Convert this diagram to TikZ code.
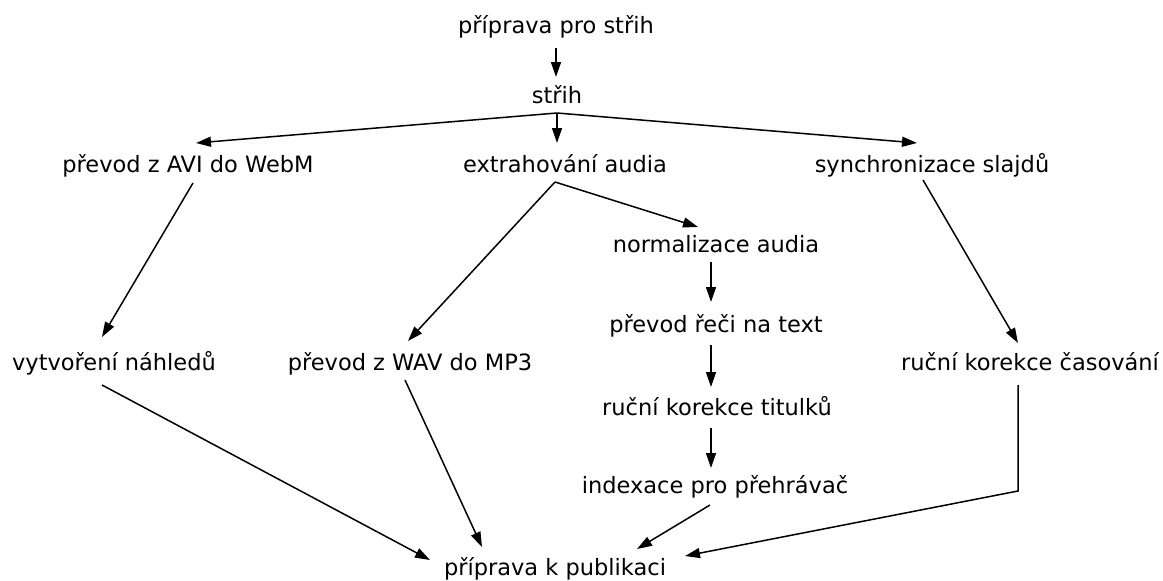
\documentclass[tikz,border=0pt]{standalone}
\usepackage{fontspec}
\setmainfont{DejaVu Sans}
\usetikzlibrary{arrows.meta,calc}
\begin{document}
\begin{tikzpicture}[x=1pt,y=-1pt,
  lbl/.style={inner sep=0pt,anchor=base,font=\fontsize{22.5}{26}\selectfont},
  edge/.style={line width=1.5pt,-{Triangle[length=15pt,width=10pt]}}]
\useasboundingbox (0,0) rectangle (1163,581);
\node[lbl] (n1) at (556,33) {příprava pro střih};
\node[lbl] (n2) at (557,103) {střih};
\node[lbl] (n3) at (188,172) {převod z AVI do WebM};
\node[lbl] (n4) at (565,172) {extrahování audia};
\node[lbl] (n5) at (932,172) {synchronizace slajdů};
\node[lbl] (n6) at (716,252) {normalizace audia};
\node[lbl] (n7) at (114,370) {vytvoření náhledů};
\node[lbl] (n8) at (410,370) {převod z WAV do MP3};
\node[lbl] (n9) at (716,332) {převod řeči na text};
\node[lbl] (n10) at (1030,370) {ruční korekce časování};
\node[lbl] (n11) at (717,415) {ruční korekce titulků};
\node[lbl] (n12) at (715,493) {indexace pro přehrávač};
\node[lbl] (n13) at (555,575) {příprava k publikaci};
\coordinate (bend) at ($(n10.base)+(-12,121)$);
\draw[edge] ($(n1.base)+(0,15)$) -- ($(n2.base)+(-1,-26)$);
\draw[edge] ($(n2.base)+(0,10)$) -- ($(n3.base)+(8,-29)$);
\draw[edge] ($(n2.base)+(0,10)$) -- ($(n4.base)+(-8,-29)$);
\draw[edge] ($(n2.base)+(0,10)$) -- ($(n5.base)+(-15,-29)$);
\draw[edge] ($(n3.base)+(5,11)$) -- ($(n7.base)+(-12,-33)$);
\draw[edge] ($(n4.base)+(-10,10)$) -- ($(n6.base)+(-18,-25)$);
\draw[edge] ($(n4.base)+(-10,10)$) -- ($(n8.base)+(-2,-29)$);
\draw[edge] ($(n5.base)+(-9,8)$) -- ($(n10.base)+(-12,-27)$);
\draw[edge] ($(n6.base)+(-5,10)$) -- ($(n9.base)+(-5,-30)$);
\draw[edge] ($(n9.base)+(-5,13)$) -- ($(n11.base)+(-6,-28)$);
\draw[edge] ($(n11.base)+(-6,13)$) -- ($(n12.base)+(-4,-25)$);
\draw[edge] ($(n7.base)+(-12,15)$) -- ($(n13.base)+(-125,-15)$);
\draw[edge] ($(n8.base)+(-5,10)$) -- ($(n13.base)+(-73,-28)$);
\draw[edge] ($(n12.base)+(-5,12)$) -- ($(n13.base)+(82,-26)$);
\draw[edge] ($(n10.base)+(-12,15)$) -- (bend) -- ($(n13.base)+(130,-19)$);
\end{tikzpicture}
\end{document}
